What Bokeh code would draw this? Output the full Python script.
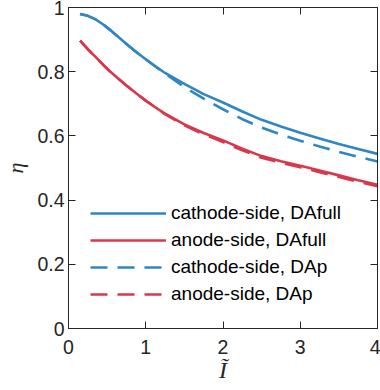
from bokeh.plotting import figure
from bokeh.models import Range1d, LinearAxis, Legend, LegendItem, FixedTicker, CustomJSTickFormatter
from bokeh.embed import file_html
from bokeh.resources import INLINE

x_vals = [0.15, 0.25, 0.35, 0.45, 0.55, 0.65, 0.75, 0.9, 1.0, 1.1, 1.25, 1.5, 1.75, 2.0, 2.25, 2.5, 2.75, 3.0, 3.25, 3.5, 3.75, 4.0]
cathode_full = [0.980, 0.974, 0.963, 0.947, 0.928, 0.907, 0.886, 0.857, 0.839, 0.821, 0.796, 0.762, 0.730, 0.704, 0.676, 0.650, 0.629, 0.610, 0.592, 0.575, 0.559, 0.544]
anode_full = [0.897, 0.870, 0.846, 0.821, 0.798, 0.777, 0.757, 0.728, 0.710, 0.693, 0.669, 0.636, 0.609, 0.586, 0.560, 0.537, 0.521, 0.507, 0.492, 0.477, 0.462, 0.448]
cathode_dap = [0.980, 0.974, 0.963, 0.947, 0.928, 0.907, 0.886, 0.857, 0.839, 0.821, 0.794, 0.752, 0.716, 0.683, 0.652, 0.626, 0.604, 0.585, 0.567, 0.550, 0.535, 0.520]
anode_dap = [0.897, 0.870, 0.846, 0.821, 0.798, 0.777, 0.757, 0.728, 0.710, 0.693, 0.668, 0.633, 0.605, 0.581, 0.555, 0.532, 0.516, 0.502, 0.487, 0.472, 0.457, 0.443]

x_ticks = [0, 1, 2, 3, 4]
y_ticks = [0, 0.2, 0.4, 0.6, 0.8, 1]
y_tick_labels = {0: "0", 0.2: "0.2", 0.4: "0.4", 0.6: "0.6", 0.8: "0.8", 1: "1"}

labels = ["cathode-side, DAfull", "anode-side, DAfull", "cathode-side, DAp", "anode-side, DAp"]

BLUE = "#2f86c3"
RED = "#d9384c"
AX = "#262626"
FONT = "Liberation Sans"

p = figure(width=380, height=390, output_backend="svg", toolbar_location=None,
           x_range=Range1d(0, 4), y_range=Range1d(0, 1),
           x_axis_location=None, y_axis_location=None)
p.min_border_left = 67
p.min_border_right = 3
p.min_border_top = 7
p.min_border_bottom = 62
p.xgrid.visible = False
p.ygrid.visible = False
p.outline_line_color = AX
p.outline_line_width = 1
p.background_fill_color = "white"
p.border_fill_color = "white"

def style(ax):
    ax.major_tick_in = 7
    ax.major_tick_out = 0
    ax.major_tick_line_color = AX
    ax.major_tick_line_width = 1
    ax.minor_tick_line_color = None
    ax.axis_line_color = AX
    ax.major_label_text_color = AX
    ax.major_label_text_font = FONT
    ax.major_label_text_font_size = "19.5px"

xb = LinearAxis(ticker=FixedTicker(ticks=x_ticks))
style(xb)
xb.major_label_standoff = 11
xb.axis_label = "Ĩ"
xb.axis_label_text_font = "Liberation Serif"
xb.axis_label_text_font_style = "italic"
xb.axis_label_text_font_size = "24px"
xb.axis_label_text_color = AX
xb.axis_label_standoff = 0
p.add_layout(xb, "below")

yl = LinearAxis(ticker=FixedTicker(ticks=y_ticks))
style(yl)
yl.major_label_overrides = y_tick_labels
yl.major_label_standoff = 4
yl.axis_label = "η"
yl.axis_label_text_font = "Liberation Serif"
yl.axis_label_text_font_style = "italic"
yl.axis_label_text_font_size = "22px"
yl.axis_label_text_color = AX
yl.axis_label_standoff = 6
p.add_layout(yl, "left")

# mirrored inward ticks on top and right, without labels
blank = CustomJSTickFormatter(code="return '';")
xt = LinearAxis(ticker=FixedTicker(ticks=x_ticks), formatter=blank)
style(xt)
xt.major_label_standoff = 0
p.add_layout(xt, "above")
yr = LinearAxis(ticker=FixedTicker(ticks=y_ticks), formatter=blank)
style(yr)
yr.major_label_standoff = 0
p.add_layout(yr, "right")

r1 = p.line(x_vals, cathode_full, line_color=BLUE, line_width=2.6)
r2 = p.line(x_vals, anode_full, line_color=RED, line_width=2.6)
r3 = p.line(x_vals, cathode_dap, line_color=BLUE, line_width=2.6, line_dash="17 10")
r4 = p.line(x_vals, anode_dap, line_color=RED, line_width=2.6, line_dash="17 10")

legend = Legend(items=[LegendItem(label=l, renderers=[r]) for l, r in zip(labels, [r1, r2, r3, r4])],
                location=(22, 23), padding=0, margin=0, spacing=5,
                glyph_width=76, glyph_height=20, label_height=20, label_standoff=5,
                label_text_font=FONT, label_text_font_size="19px", label_text_color="black",
                border_line_color=None, background_fill_alpha=0)
p.add_layout(legend, "center")

open("out.html", "w").write(file_html(p, INLINE))
